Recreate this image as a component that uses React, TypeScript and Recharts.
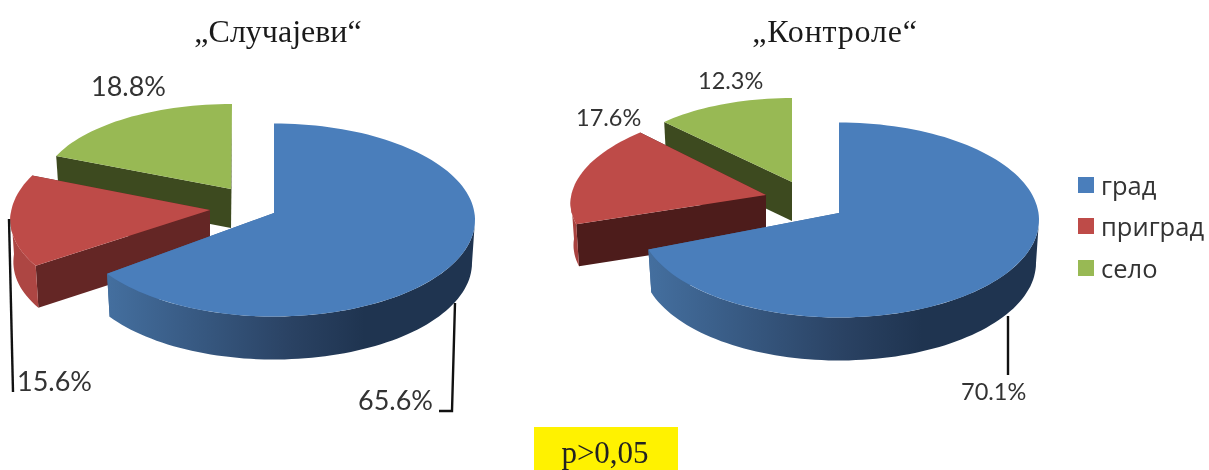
import { Legend, Pie, PieChart } from "recharts";

const sliceNames = ["село", "приград", "град"];
const casesValues = [18.8, 15.6, 65.6];
const controlsValues = [12.3, 17.6, 70.1];
const legendNames = ["град", "приград", "село"];
const casesTitle = "„Случајеви“";
const controlsTitle = "„Контроле“";
const pValueText = "p>0,05";

const topColors: Record<string, string> = {
  град: "#4a7ebb",
  приград: "#be4b48",
  село: "#98b954",
};

const CHART_WIDTH = 1209;
const CHART_HEIGHT = 470;
const WALL_TAPER = 0.985;
const LABEL_FONT = "Lato, 'Open Sans', sans-serif";
const LEGEND_FONT = "'Open Sans', sans-serif";
const SERIF = "'Liberation Serif', serif";

type SliceLook = {
  dx: number;
  dy: number;
  rx: number;
  ry: number;
  skew: number;
  apexDx: number;
  apexDy: number;
  depth: number;
  cutFill: string;
  wallFill: string;
};

type LabelLook = {
  x: number;
  y: number;
  line: number[][];
};

// drawn back to front: село, приград, град
const casesLook: SliceLook[] = [
  { dx: -42, dy: -32, rx: 0.95, ry: 0.42, skew: 0, apexDx: -1, apexDy: 1, depth: 39, cutFill: "#3d4a1f", wallFill: "#3d4a1f" },
  { dx: -63, dy: -8, rx: 1, ry: 0.4825, skew: -0.17, apexDx: -1, apexDy: -2, depth: 42, cutFill: "#642625", wallFill: "#ad4643" },
  { dx: 0, dy: 0, rx: 1.005, ry: 0.4825, skew: 0, apexDx: 0, apexDy: -7, depth: 43, cutFill: "#3f6a9c", wallFill: "url(#blueWall)" },
];

const controlsLook: SliceLook[] = [
  { dx: -47, dy: -38, rx: 0.915, ry: 0.42, skew: 0, apexDx: 0, apexDy: 0, depth: 39, cutFill: "#3d4a1f", wallFill: "#3d4a1f" },
  { dx: -71, dy: -23, rx: 0.985, ry: 0.45, skew: -0.15, apexDx: -2, apexDy: -2, depth: 42, cutFill: "#4d1c1b", wallFill: "#a8423f" },
  { dx: 0, dy: 0, rx: 1, ry: 0.4875, skew: 0, apexDx: 0, apexDy: -7, depth: 43, cutFill: "#3f6a9c", wallFill: "url(#blueWall)" },
];

const casesLabels: LabelLook[] = [
  { x: 91, y: 96, line: [] },
  { x: 17, y: 391, line: [[9, 219], [13, 392]] },
  { x: 358, y: 410, line: [[455, 303], [452, 411], [439, 411]] },
];

const controlsLabels: LabelLook[] = [
  { x: 698, y: 89, line: [] },
  { x: 576, y: 126, line: [] },
  { x: 961, y: 400, line: [[1008, 316], [1008, 375]] },
];

function makeSlice(looks: SliceLook[]) {
  return function Slice(props: any) {
    const { cx, cy, outerRadius, startAngle, endAngle, index, name } = props;
    const look = looks[index];
    const centerX = cx + look.dx;
    const centerY = cy + look.dy;
    const radiusX = outerRadius * look.rx;
    const radiusY = outerRadius * look.ry;
    const from = Math.min(startAngle, endAngle);
    const to = Math.max(startAngle, endAngle);

    const rimPoint = (deg: number) => {
      const rad = (deg * Math.PI) / 180;
      const y = -radiusY * Math.sin(rad);
      return [centerX + radiusX * Math.cos(rad) + look.skew * y, centerY + y];
    };
    const rimPoints = (a: number, b: number) => {
      const steps = Math.max(1, Math.ceil((b - a) / 2));
      const out: number[][] = [];
      for (let i = 0; i <= steps; i++) out.push(rimPoint(a + ((b - a) * i) / steps));
      return out;
    };
    const toPath = (pts: number[][]) =>
      "M" + pts.map((p) => `${p[0].toFixed(1)},${p[1].toFixed(1)}`).join("L") + "Z";

    const lowered = (p: number[]) => [centerX + (p[0] - centerX) * WALL_TAPER, p[1] + look.depth];
    const apex = [centerX + look.apexDx, centerY + look.apexDy];
    const cut = (p: number[]) => [apex, p, lowered(p), [apex[0], apex[1] + look.depth]];
    const first = rimPoint(from);
    const last = rimPoint(to);

    // front part of the rim wall sits between 180 and 360 degrees
    const wallFrom = Math.max(from, 180);
    const wallTo = Math.min(to, 360);
    const wallTop = wallTo > wallFrom ? rimPoints(wallFrom, wallTo) : [];
    const wall = [...wallTop, ...[...wallTop].reverse().map(lowered)];

    return (
      <g>
        <path d={toPath(cut(first))} fill={look.cutFill} />
        <path d={toPath(cut(last))} fill={look.cutFill} />
        {wall.length > 0 && <path d={toPath(wall)} fill={look.wallFill} />}
        <path d={toPath([apex, ...rimPoints(from, to)])} fill={topColors[name]} />
      </g>
    );
  };
}

function makeLabel(looks: LabelLook[], fontSize: number) {
  return function SliceLabel(props: any) {
    const look = looks[props.index];
    return (
      <g>
        {look.line.length > 0 && (
          <polyline
            points={look.line.map((p) => p.join(",")).join(" ")}
            fill="none"
            stroke="#111"
            strokeWidth={2.4}
          />
        )}
        <text x={look.x} y={look.y} fontSize={fontSize} fontFamily={LABEL_FONT} fill="#333">
          {props.value.toFixed(1)}%
        </text>
      </g>
    );
  };
}

function LegendBlock() {
  return (
    <div style={{ fontFamily: LEGEND_FONT, fontSize: 25.5, color: "#333" }}>
      {legendNames.map((name) => (
        <div key={name} style={{ display: "flex", alignItems: "center", height: 41.5 }}>
          <span style={{ width: 16, height: 16, background: topColors[name], marginRight: 7 }} />
          <span>{name}</span>
        </div>
      ))}
    </div>
  );
}

export default function App() {
  const casesData = sliceNames.map((name, i) => ({ name, value: casesValues[i] }));
  const controlsData = sliceNames.map((name, i) => ({ name, value: controlsValues[i] }));

  return (
    <div
      style={{
        position: "absolute",
        left: 0,
        top: 0,
        width: CHART_WIDTH,
        height: CHART_HEIGHT,
        background: "#fff",
        filter: "blur(0.5px)",
      }}
    >
      <PieChart width={CHART_WIDTH} height={CHART_HEIGHT} margin={{ top: 0, right: 0, bottom: 0, left: 0 }}>
        <defs>
          <linearGradient id="blueWall" x1="0" y1="0" x2="1" y2="0">
            <stop offset="0" stopColor="#446f9f" />
            <stop offset="0.5" stopColor="#2a4263" />
            <stop offset="0.7" stopColor="#1f3450" />
            <stop offset="1" stopColor="#1f3450" />
          </linearGradient>
        </defs>
        <text x={278} y={42} textAnchor="middle" fontSize={32} fontFamily={SERIF} fill="#1a1a1a">
          {casesTitle}
        </text>
        <text x={835} y={42} textAnchor="middle" fontSize={32} letterSpacing={0.8} fontFamily={SERIF} fill="#1a1a1a">
          {controlsTitle}
        </text>
        <Pie
          data={casesData}
          dataKey="value"
          nameKey="name"
          cx={274}
          cy={220}
          outerRadius={200}
          startAngle={90}
          endAngle={450}
          stroke="none"
          shape={makeSlice(casesLook)}
          label={makeLabel(casesLabels, 27)}
          labelLine={false}
          isAnimationActive={false}
        />
        <Pie
          data={controlsData}
          dataKey="value"
          nameKey="name"
          cx={839}
          cy={220}
          outerRadius={200}
          startAngle={90}
          endAngle={450}
          stroke="none"
          shape={makeSlice(controlsLook)}
          label={makeLabel(controlsLabels, 23.5)}
          labelLine={false}
          isAnimationActive={false}
        />
        <Legend
          content={LegendBlock}
          wrapperStyle={{ position: "absolute", left: 1078, top: 164, width: 131, height: 125 }}
        />
        <rect x={534} y={427} width={144} height={43} fill="#fff200" />
        <text x={605} y={463} textAnchor="middle" fontSize={31} fontFamily={SERIF} fill="#222">
          {pValueText}
        </text>
      </PieChart>
    </div>
  );
}
